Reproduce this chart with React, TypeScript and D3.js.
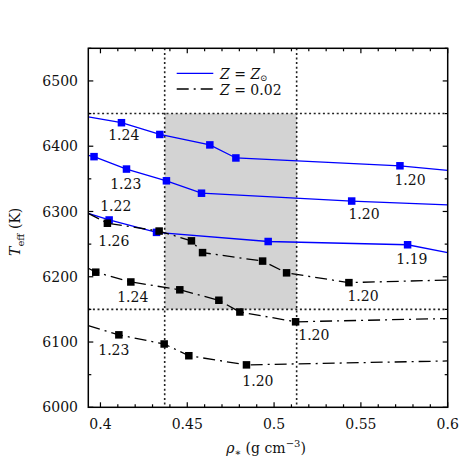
import React from "react";
import * as d3 from "d3";

const W = 464, H = 464;
const M = { left: 88.3, right: 464 - 447.7, top: 48.3, bottom: 464 - 407.3 };
const X_DOMAIN = [0.393, 0.6];
const Y_DOMAIN = [6000, 6550];
const X_MAJOR = [0.4, 0.45, 0.5, 0.55, 0.6];
const X_MINOR = [0.41, 0.42, 0.43, 0.44, 0.46, 0.47, 0.48, 0.49, 0.51, 0.52, 0.53, 0.54, 0.56, 0.57, 0.58, 0.59];
const Y_MAJOR = [6000, 6100, 6200, 6300, 6400, 6500];
const Y_MINOR = [6050, 6150, 6250, 6350, 6450, 6550];

const BOX_X = [0.437, 0.513];
const BOX_Y = [6150, 6450];

// Z = Zsun (blue) tracks
const blue1X = [0.4121, 0.4342, 0.463, 0.478, 0.5725];
const blue1Y = [6436, 6418, 6402, 6382, 6370];
const blue1Edge = [6445, 6363];
const blue2X = [0.3963, 0.415, 0.438, 0.4582, 0.5447];
const blue2Y = [6384, 6365, 6347, 6328, 6316];
const blue2Edge = [6386, 6310];
const blue3X = [0.405, 0.4323, 0.4966, 0.5769];
const blue3Y = [6287, 6268, 6254, 6249];
const blue3Edge = [6297, 6237];

// Z = 0.02 (black) tracks
const black1X = [0.404, 0.4338, 0.4524, 0.4588, 0.4934, 0.5072, 0.5431];
const black1Y = [6282, 6270, 6255, 6237, 6224, 6206, 6191];
const black1Edge = [6297, 6195];
const black2X = [0.3973, 0.4175, 0.4457, 0.4682, 0.4803, 0.5124];
const black2Y = [6207, 6192, 6180, 6164, 6146, 6131];
const black2Edge = [6213, 6136];
const black3X = [0.4106, 0.4367, 0.4509, 0.4841];
const black3Y = [6111, 6097, 6079, 6065];
const black3Edge = [6125, 6071];

// mass annotations
const labelText = ["1.24", "1.23", "1.22", "1.19", "1.20", "1.20", "1.26", "1.20", "1.24", "1.20", "1.23", "1.20"];
const labelX = [0.4134, 0.4146, 0.4088, 0.5794, 0.5783, 0.5518, 0.4077, 0.5512, 0.4186, 0.5229, 0.4077, 0.4907];
const labelY = [6417, 6342, 6308, 6227, 6348, 6296, 6255, 6170, 6169, 6111, 6088, 6040];

const FONT = "DejaVu Serif, Liberation Serif, serif";
const FS = 14;
const TS: React.CSSProperties = { fontFamily: FONT };

export default function App() {
  const x = d3.scaleLinear().domain(X_DOMAIN).range([M.left, W - M.right]);
  const y = d3.scaleLinear().domain(Y_DOMAIN).range([H - M.bottom, M.top]);
  const x0 = x.range()[0], x1 = x.range()[1];
  const y0 = y.range()[0], y1 = y.range()[1];

  const line = d3.line<[number, number]>().x(d => x(d[0])).y(d => y(d[1]));
  const mk = (xs: number[], ys: number[], edge: number[]) => {
    const pts: [number, number][] = xs.map((v, i) => [v, ys[i]]);
    return [[X_DOMAIN[0], edge[0]] as [number, number], ...pts, [X_DOMAIN[1], edge[1]] as [number, number]];
  };
  const blues = [
    { xs: blue1X, ys: blue1Y, e: blue1Edge },
    { xs: blue2X, ys: blue2Y, e: blue2Edge },
    { xs: blue3X, ys: blue3Y, e: blue3Edge },
  ];
  const blacks = [
    { xs: black1X, ys: black1Y, e: black1Edge },
    { xs: black2X, ys: black2Y, e: black2Edge },
    { xs: black3X, ys: black3Y, e: black3Edge },
  ];
  const MS = 7.5;
  const dash = "12,5,2,5";
  const dot = "2,2.6";

  return (
    <svg width={W} height={H} style={{ position: "absolute", left: 0, top: 0, background: "#fff", fontFamily: FONT }}>
      <defs>
        <clipPath id="plot">
          <rect x={x0} y={y1} width={x1 - x0} height={y0 - y1} />
        </clipPath>
      </defs>
      <rect width={W} height={H} fill="#fff" />
      <rect x={x(BOX_X[0])} y={y(BOX_Y[1])} width={x(BOX_X[1]) - x(BOX_X[0])} height={y(BOX_Y[0]) - y(BOX_Y[1])} fill="#d3d3d3" />
      {BOX_X.map((v, i) => (
        <line key={"vx" + i} x1={x(v)} x2={x(v)} y1={y1} y2={y0} stroke="#222" strokeWidth={1.6} strokeDasharray={dot} />
      ))}
      {BOX_Y.map((v, i) => (
        <line key={"hy" + i} x1={x0} x2={x1} y1={y(v)} y2={y(v)} stroke="#222" strokeWidth={1.6} strokeDasharray={dot} />
      ))}
      <g clipPath="url(#plot)">
        {blues.map((s, i) => (
          <g key={"b" + i}>
            <path d={line(mk(s.xs, s.ys, s.e)) || ""} fill="none" stroke="#0000ff" strokeWidth={1.3} />
            {s.xs.map((v, j) => (
              <rect key={j} x={x(v) - MS / 2} y={y(s.ys[j]) - MS / 2} width={MS} height={MS} fill="#0000ff" />
            ))}
          </g>
        ))}
        {blacks.map((s, i) => (
          <g key={"k" + i}>
            <path d={line(mk(s.xs, s.ys, s.e)) || ""} fill="none" stroke="#000" strokeWidth={1.3} strokeDasharray={dash} />
            {s.xs.map((v, j) => (
              <rect key={j} x={x(v) - MS / 2} y={y(s.ys[j]) - MS / 2} width={MS} height={MS} fill="#000" />
            ))}
          </g>
        ))}
      </g>
      {labelText.map((t, i) => (
        <text key={"l" + i} style={TS} x={x(labelX[i])} y={y(labelY[i])} dy="0.36em" textAnchor="middle" fontSize={FS} fill="#111">{t}</text>
      ))}

      {/* legend */}
      <g>
        <line x1={176.7} x2={213.3} y1={73.3} y2={73.3} stroke="#0000ff" strokeWidth={1.3} />
        <text style={TS} x={220} y={78.5} fontSize={FS} fill="#111">
          <tspan fontStyle="italic">Z</tspan>{" = "}<tspan fontStyle="italic">Z</tspan><tspan fontSize={8.5} dy={2}>⊙</tspan>
        </text>
        <line x1={176.7} x2={213.3} y1={89} y2={89} stroke="#000" strokeWidth={1.3} strokeDasharray={dash} />
        <text style={TS} x={220} y={95} fontSize={FS} fill="#111">
          <tspan fontStyle="italic">Z</tspan>{" = 0.02"}
        </text>
      </g>

      {/* frame & ticks */}
      <rect x={x0} y={y1} width={x1 - x0} height={y0 - y1} fill="none" stroke="#000" strokeWidth={1.5} />
      {X_MAJOR.map((v, i) => (
        <g key={"xm" + i}>
          <line x1={x(v)} x2={x(v)} y1={y0} y2={y0 - 5} stroke="#000" strokeWidth={1.2} />
          <line x1={x(v)} x2={x(v)} y1={y1} y2={y1 + 5} stroke="#000" strokeWidth={1.2} />
          <text style={TS} x={x(v)} y={429} textAnchor="middle" fontSize={FS} fill="#111">{d3.format("")(v)}</text>
        </g>
      ))}
      {X_MINOR.map((v, i) => (
        <g key={"xn" + i}>
          <line x1={x(v)} x2={x(v)} y1={y0} y2={y0 - 3} stroke="#000" strokeWidth={1.2} />
          <line x1={x(v)} x2={x(v)} y1={y1} y2={y1 + 3} stroke="#000" strokeWidth={1.2} />
        </g>
      ))}
      {Y_MAJOR.map((v, i) => (
        <g key={"ym" + i}>
          <line x1={x0} x2={x0 + 5} y1={y(v)} y2={y(v)} stroke="#000" strokeWidth={1.2} />
          <line x1={x1} x2={x1 - 5} y1={y(v)} y2={y(v)} stroke="#000" strokeWidth={1.2} />
          <text style={TS} x={78} y={y(v)} dy="0.36em" textAnchor="end" fontSize={FS} fill="#111">{v}</text>
        </g>
      ))}
      {Y_MINOR.map((v, i) => (
        <g key={"yn" + i}>
          <line x1={x0} x2={x0 + 3} y1={y(v)} y2={y(v)} stroke="#000" strokeWidth={1.2} />
          <line x1={x1} x2={x1 - 3} y1={y(v)} y2={y(v)} stroke="#000" strokeWidth={1.2} />
        </g>
      ))}

      {/* axis titles */}
      <text style={TS} x={(x0 + x1) / 2 - 2} y={453} textAnchor="middle" fontSize={FS} fill="#111">
        <tspan fontStyle="italic">ρ</tspan><tspan fontSize={10} dy={3}>∗</tspan><tspan dy={-3}>{" (g cm"}</tspan><tspan fontSize={10} dy={-6}>−3</tspan><tspan dy={6}>)</tspan>
      </text>
      <text style={TS} transform={`translate(20,${(y0 + y1) / 2 + 4}) rotate(-90)`} textAnchor="middle" fontSize={FS} fill="#111">
        <tspan fontStyle="italic">T</tspan><tspan fontSize={10} dy={4}>eff</tspan><tspan dy={-4}>{" (K)"}</tspan>
      </text>
    </svg>
  );
}
